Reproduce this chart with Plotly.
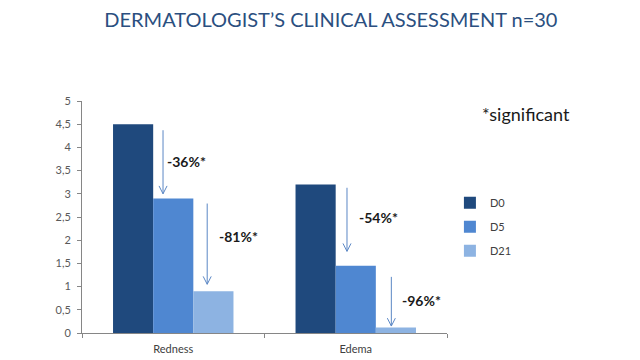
import plotly.graph_objects as go

categories = ["Redness", "Edema"]
series_names = ["D0", "D5", "D21"]
d0 = [4.5, 3.2]
d5 = [2.9, 1.45]
d21 = [0.9, 0.12]
colors = ["#1F497D", "#4F87D1", "#8DB3E2"]

# reduction arrows: (category index, x offset, top value, bottom value)
arrow_cat = [0, 0, 1, 1]
arrow_off = [-0.056, 0.186, -0.048, 0.195]
arrow_top = [4.37, 2.79, 3.13, 1.21]
arrow_bot = [3.0, 1.05, 1.76, 0.15]
labels = ["-36%*", "-81%*", "-54%*", "-96%*"]
label_off = [-0.047, 0.237, 0.008, 0.244]
label_y = [3.70, 2.07, 2.48, 0.71]

fig = go.Figure()
for name, vals, col in zip(series_names, [d0, d5, d21], colors):
    fig.add_trace(go.Bar(name=name, x=categories, y=vals, marker_color=col,
                         marker_line_width=0, legendgroup=name))

arrow_col = "#5B87C5"
dx, dy = 0.022, 0.17
for c, o, t, b in zip(arrow_cat, arrow_off, arrow_top, arrow_bot):
    x = c + o
    fig.add_shape(type="line", xref="x", yref="y", x0=x, x1=x, y0=t, y1=b,
                  line=dict(color=arrow_col, width=1))
    fig.add_shape(type="line", xref="x", yref="y", x0=x - dx, x1=x, y0=b + dy, y1=b,
                  line=dict(color=arrow_col, width=1))
    fig.add_shape(type="line", xref="x", yref="y", x0=x + dx, x1=x, y0=b + dy, y1=b,
                  line=dict(color=arrow_col, width=1))

for c, o, yv, txt in zip(arrow_cat, label_off, label_y, labels):
    fig.add_annotation(x=c + o, y=yv, xref="x", yref="y", text="<b>" + txt + "</b>",
                       showarrow=False, xanchor="left", yanchor="middle",
                       font=dict(family="Lato", size=14, color="#1a1a1a"))

fig.add_annotation(x=1.216, y=0.943, xref="paper", yref="paper", text="*significant",
                   showarrow=False, xanchor="center", yanchor="middle",
                   font=dict(family="Lato", size=18, color="#1a1a1a"))

fig.update_layout(
    width=640, height=360,
    margin=dict(l=82, r=193, t=101, b=27),
    paper_bgcolor="white", plot_bgcolor="white",
    separators=",.",
    barmode="group", bargap=0.34, bargroupgap=0,
    font=dict(family="Lato", size=11, color="#404040"),
    title=dict(text="DERMATOLOGIST’S CLINICAL ASSESSMENT n=30",
               xanchor="center", y=0.944, yanchor="middle",
               font=dict(family="Lato", size=20, color="#2B4F80")),
    legend=dict(x=1.008, y=0.458, xanchor="left", yanchor="middle",
                font=dict(family="Lato", size=11, color="#404040"),
                tracegroupgap=5, bgcolor="rgba(0,0,0,0)"),
    xaxis=dict(showline=True, linecolor="#868686", linewidth=1, ticks="outside",
               tickson="boundaries", ticklen=4, tickcolor="#868686",
               range=[-0.5, 1.5], showgrid=False, ticklabelstandoff=6, automargin=False,
               tickfont=dict(family="Lato", size=11, color="#404040")),
    yaxis=dict(range=[0, 5], dtick=0.5, showline=True, linecolor="#868686", linewidth=1,
               ticks="outside", ticklen=4, tickcolor="#868686", showgrid=False,
               zeroline=False, tickformat=".1~f", ticklabelstandoff=4, automargin=False,
               tickfont=dict(family="Lato", size=11, color="#595959")),
)
fig.update_layout(title_xref="container", title_x=0.517)

fig.write_html("out.html", post_script="document.body.style.margin='0';",
               config={"displayModeBar": False})
